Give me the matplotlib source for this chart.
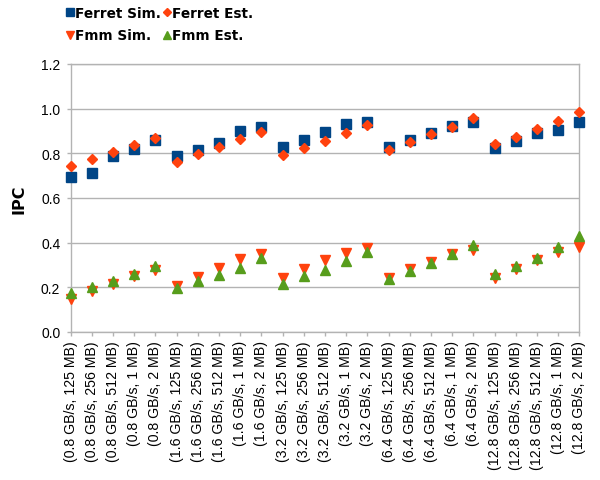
import matplotlib
matplotlib.use("Agg")
import matplotlib.pyplot as plt
import numpy as np

bandwidths = ["0.8", "1.6", "3.2", "6.4", "12.8"]
sizes = ["125 MB", "256 MB", "512 MB", "1 MB", "2 MB"]
categories = [f"({b} GB/s, {s})" for b in bandwidths for s in sizes]

ferret_sim = [0.695, 0.713, 0.788, 0.821, 0.858,
              0.787, 0.815, 0.848, 0.900, 0.918,
              0.828, 0.860, 0.896, 0.930, 0.942,
              0.830, 0.858, 0.890, 0.923, 0.941,
              0.826, 0.855, 0.890, 0.905, 0.941]
ferret_est = [0.743, 0.773, 0.806, 0.836, 0.870,
              0.761, 0.799, 0.830, 0.863, 0.897,
              0.791, 0.822, 0.855, 0.890, 0.926,
              0.815, 0.851, 0.885, 0.918, 0.956,
              0.840, 0.875, 0.911, 0.945, 0.986]
fmm_sim = [0.146, 0.182, 0.215, 0.251, 0.278,
           0.206, 0.246, 0.288, 0.325, 0.348,
           0.243, 0.281, 0.321, 0.355, 0.378,
           0.240, 0.281, 0.315, 0.351, 0.369,
           0.243, 0.284, 0.324, 0.358, 0.379]
fmm_est = [0.176, 0.201, 0.228, 0.261, 0.297,
           0.199, 0.227, 0.254, 0.288, 0.331,
           0.214, 0.249, 0.279, 0.316, 0.358,
           0.239, 0.273, 0.311, 0.348, 0.391,
           0.260, 0.294, 0.333, 0.379, 0.428]

yticks = [0.0, 0.2, 0.4, 0.6, 0.8, 1.0, 1.2]

BLUE = "#004586"
ORANGE = "#ff420e"
GREEN = "#579d1c"
GRID = "#b3b3b3"

plt.rcParams["font.family"] = ["Liberation Sans", "DejaVu Sans"]

fig = plt.figure(figsize=(6.0, 4.81), dpi=100)
ax = fig.add_axes([0.1178, 0.3077, 0.9655 - 0.1178, 0.8649 - 0.3077])

x = np.arange(len(categories))

h_fs, = ax.plot(x, ferret_sim, linestyle="none", marker="s", ms=7.3,
                color=BLUE, mec=BLUE, clip_on=False, zorder=3, label="Ferret Sim.")
h_fe, = ax.plot(x, ferret_est, linestyle="none", marker="D", ms=5.4,
                color=ORANGE, mec=ORANGE, clip_on=False, zorder=4, label="Ferret Est.")
h_ms, = ax.plot(x, fmm_sim, linestyle="none", marker="v", ms=7.6,
                color=ORANGE, mec=ORANGE, clip_on=False, zorder=3, label="Fmm Sim.")
h_me, = ax.plot(x, fmm_est, linestyle="none", marker="^", ms=7.6,
                color=GREEN, mec=GREEN, clip_on=False, zorder=4, label="Fmm Est.")

ax.set_xlim(0, len(categories) - 1)
ax.set_ylim(0, 1.2)
ax.set_yticks(yticks)
ax.set_yticklabels([f"{v:.1f}" for v in yticks], fontsize=10)
ax.set_xticks(x)
ax.set_xticklabels(categories, rotation=90, fontsize=10.2, va="top", ha="center")

ax.grid(axis="y", color=GRID, linewidth=1.0)
ax.set_axisbelow(True)
for side in ["left", "right", "bottom", "top"]:
    ax.spines[side].set_color(GRID)
    ax.spines[side].set_linewidth(1.0)
ax.tick_params(axis="both", colors=GRID, length=3, width=1.0, direction="out",
               labelcolor="black")
ax.tick_params(axis="x", pad=3)
ax.tick_params(axis="y", pad=4.5)

ax.set_ylabel("IPC", fontsize=11.5, fontweight="bold", labelpad=10,
              family="DejaVu Sans")

leg = fig.legend(handles=[h_fs, h_ms, h_fe, h_me], ncol=2,
                 loc="upper left", bbox_to_anchor=(0.095, 1.005),
                 frameon=False, handlelength=0.5, handletextpad=0.15,
                 columnspacing=0.15, labelspacing=0.6, markerscale=0.7,
                 borderpad=0.2,
                 prop={"weight": "bold", "size": 9.8, "family": "DejaVu Sans"})

fig.savefig("out.png", dpi=100)
